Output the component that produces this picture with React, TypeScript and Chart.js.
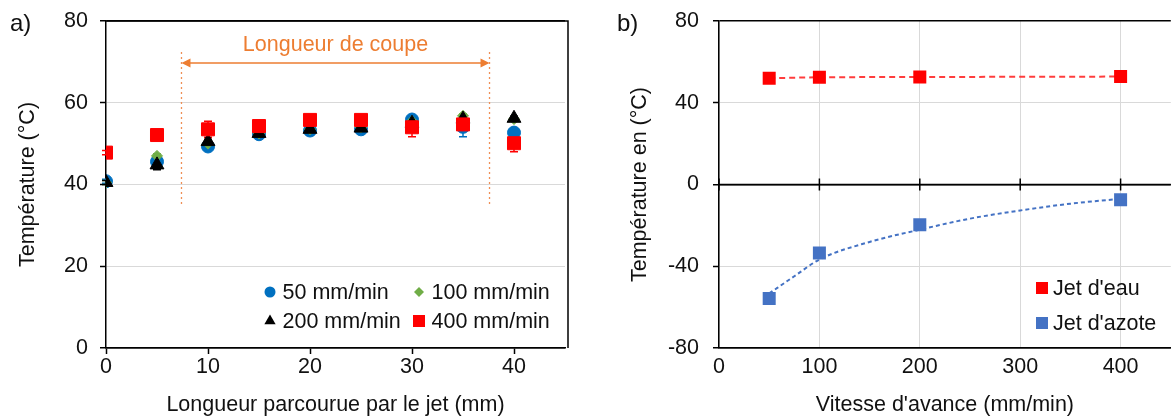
import React, { useEffect, useRef } from "react";
import { Chart, registerables } from "chart.js";

Chart.register(...registerables);

const FONT_FAMILY = "'Liberation Sans', Arial, Helvetica, sans-serif";
const FONT_SIZE = 21.5;
const TEXT_COLOR = "#111111";
const GRID_COLOR = "#D9D9D9";

// ---------- Panel a) ----------
const panelALabel = "a)";
const lengths = [0, 5, 10, 15, 20, 25, 30, 35, 40];
const seriesLabelsA = ["50 mm/min", "100 mm/min", "200 mm/min", "400 mm/min"];
const temp50 = [40.8, 45.6, 49.3, 52.3, 53.2, 53.5, 55.9, 54.1, 52.7];
const temp100 = [40.5, 47.0, 50.0, 52.5, 53.5, 54.0, 55.5, 56.8, 56.0];
const temp200 = [40.5, 44.8, 50.5, 52.5, 53.5, 53.8, 55.0, 56.0, 56.2];
const temp400 = [47.8, 52.1, 53.5, 54.3, 55.8, 55.8, 54.0, 54.7, 50.1];
const err50 = [0.5, 1.0, 1.0, 0.5, 0.5, 0.5, 1.0, 2.4, 0.5];
const err100 = [0.5, 0.5, 0.5, 0.5, 0.5, 0.5, 0.5, 0.5, 0.5];
const err200 = [0.5, 1.2, 1.0, 0.5, 0.5, 0.5, 0.5, 0.5, 0.5];
const err400 = [0.5, 0.5, 2.0, 0.5, 0.5, 0.5, 2.3, 0.5, 2.1];
const xTitleA = "Longueur parcourue par le jet (mm)";
const yTitleA = "Température (°C)";
const cutLabel = "Longueur de coupe";
const cutZoneX = [7.4, 37.6];
const cutZoneY = [34.5, 72.4];
const cutArrowY = 69.7;
const cutLabelY = 74.1;

// ---------- Panel b) ----------
const panelBLabel = "b)";
const speeds = [50, 100, 200, 400];
const seriesLabelsB = ["Jet d'eau", "Jet d'azote"];
const tempWater = [52.0, 52.5, 52.6, 52.8];
const tempNitrogen = [-55.8, -33.5, -19.7, -7.5];
const trendSpeeds = [50, 75, 100, 150, 200, 250, 300, 350, 400];
const trendNitrogen = [-53.3, -44.9, -36.7, -28.1, -22.1, -16.7, -12.7, -9.4, -7.0];
const xTitleB = "Vitesse d'avance (mm/min)";
const yTitleB = "Température en (°C)";

const font = (size = FONT_SIZE) => `${size}px ${FONT_FAMILY}`;

function drawMarker(ctx: CanvasRenderingContext2D, style: string, x: number, y: number, r: number, color: string) {
  ctx.save();
  ctx.fillStyle = color;
  ctx.beginPath();
  if (style === "circle") {
    ctx.arc(x, y, r, 0, Math.PI * 2);
  } else if (style === "rectRot") {
    ctx.moveTo(x, y - r);
    ctx.lineTo(x + r, y);
    ctx.lineTo(x, y + r);
    ctx.lineTo(x - r, y);
    ctx.closePath();
  } else if (style === "triangle") {
    ctx.moveTo(x, y - r);
    ctx.lineTo(x + r * 0.866, y + r * 0.5);
    ctx.lineTo(x - r * 0.866, y + r * 0.5);
    ctx.closePath();
  } else {
    ctx.rect(x - r, y - r, 2 * r, 2 * r);
  }
  ctx.fill();
  ctx.restore();
}

const errorBarPlugin = {
  id: "errorBars",
  beforeDatasetsDraw(chart: any) {
    const ctx = chart.ctx;
    const xs = chart.scales.x;
    const ys = chart.scales.y;
    chart.data.datasets.forEach((ds: any) => {
      if (!ds.errors) return;
      ctx.save();
      ctx.strokeStyle = ds.borderColor;
      ctx.lineWidth = 1.5;
      ds.data.forEach((p: any, i: number) => {
        const e = ds.errors[i];
        if (!e) return;
        const px = xs.getPixelForValue(p.x);
        const y1 = ys.getPixelForValue(p.y + e);
        const y2 = ys.getPixelForValue(p.y - e);
        ctx.beginPath();
        ctx.moveTo(px, y1);
        ctx.lineTo(px, y2);
        ctx.moveTo(px - 4, y1);
        ctx.lineTo(px + 4, y1);
        ctx.moveTo(px - 4, y2);
        ctx.lineTo(px + 4, y2);
        ctx.stroke();
      });
      ctx.restore();
    });
  },
};

function makeLegendPlugin(items: { ds: number; col: number; row: number }[], colX: number[], rowY: number[], legendR: number[], textGap: number) {
  return {
    id: "insideLegend",
    afterDraw(chart: any) {
      const ctx = chart.ctx;
      const area = chart.chartArea;
      items.forEach((it, k) => {
        const ds = chart.data.datasets[it.ds];
        const x = area.left + colX[it.col];
        const y = area.bottom - rowY[it.row];
        drawMarker(ctx, ds.pointStyle, x, y, legendR[k], ds.backgroundColor);
        ctx.save();
        ctx.font = font();
        ctx.fillStyle = TEXT_COLOR;
        ctx.textAlign = "left";
        ctx.textBaseline = "middle";
        ctx.fillText(ds.label, x + textGap, y + 1);
        ctx.restore();
      });
    },
  };
}

function makePanelLabelPlugin(text: string, x: number, y: number) {
  return {
    id: "panelLabel",
    afterDraw(chart: any) {
      const ctx = chart.ctx;
      ctx.save();
      ctx.font = font(24);
      ctx.fillStyle = TEXT_COLOR;
      ctx.textAlign = "left";
      ctx.textBaseline = "alphabetic";
      ctx.fillText(text, x, y);
      ctx.restore();
    },
  };
}

const frameAPlugin = {
  id: "frameA",
  afterDatasetsDraw(chart: any) {
    const { ctx, chartArea } = chart;
    ctx.save();
    ctx.strokeStyle = "#000";
    ctx.lineWidth = 1.5;
    ctx.beginPath();
    ctx.moveTo(chartArea.left, chartArea.top);
    ctx.lineTo(chartArea.right + 3, chartArea.top);
    ctx.lineTo(chartArea.right + 3, chartArea.bottom);
    ctx.stroke();
    ctx.restore();
  },
};

const cutZonePlugin = {
  id: "cutZone",
  beforeDatasetsDraw(chart: any) {
    const ctx = chart.ctx;
    const xs = chart.scales.x;
    const ys = chart.scales.y;
    const x1 = xs.getPixelForValue(cutZoneX[0]);
    const x2 = xs.getPixelForValue(cutZoneX[1]);
    const yTop = ys.getPixelForValue(cutZoneY[1]);
    const yBot = ys.getPixelForValue(cutZoneY[0]);
    const yA = ys.getPixelForValue(cutArrowY);
    ctx.save();
    ctx.strokeStyle = "#EF8F55";
    ctx.lineWidth = 1.3;
    ctx.setLineDash([2, 3]);
    ctx.beginPath();
    ctx.moveTo(x1, yTop);
    ctx.lineTo(x1, yBot);
    ctx.moveTo(x2, yTop);
    ctx.lineTo(x2, yBot);
    ctx.stroke();
    ctx.setLineDash([]);
    ctx.strokeStyle = "#ED7D31";
    ctx.fillStyle = "#ED7D31";
    ctx.lineWidth = 1.5;
    ctx.beginPath();
    ctx.moveTo(x1 + 6, yA);
    ctx.lineTo(x2 - 6, yA);
    ctx.stroke();
    ctx.beginPath();
    ctx.moveTo(x1, yA);
    ctx.lineTo(x1 + 9, yA - 4.5);
    ctx.lineTo(x1 + 9, yA + 4.5);
    ctx.closePath();
    ctx.moveTo(x2, yA);
    ctx.lineTo(x2 - 9, yA - 4.5);
    ctx.lineTo(x2 - 9, yA + 4.5);
    ctx.closePath();
    ctx.fill();
    ctx.font = font();
    ctx.textAlign = "center";
    ctx.textBaseline = "middle";
    ctx.fillText(cutLabel, (x1 + x2) / 2, ys.getPixelForValue(cutLabelY));
    ctx.restore();
  },
};

const crossTicksBPlugin = {
  id: "crossTicks",
  afterDatasetsDraw(chart: any) {
    const ctx = chart.ctx;
    const xs = chart.scales.x;
    const y0 = chart.scales.y.getPixelForValue(0);
    ctx.save();
    ctx.strokeStyle = "#000";
    ctx.lineWidth = 1.5;
    ctx.beginPath();
    ctx.moveTo(chart.chartArea.left, y0);
    ctx.lineTo(chart.chartArea.right, y0);
    xs.ticks.forEach((t: any) => {
      const px = xs.getPixelForValue(t.value);
      ctx.moveTo(px, y0 - 6);
      ctx.lineTo(px, y0 + 6);
    });
    ctx.stroke();
    ctx.restore();
  },
};

function titleOpts(text: string, padding: any) {
  return {
    display: true,
    text,
    color: TEXT_COLOR,
    font: { family: FONT_FAMILY, size: FONT_SIZE },
    padding,
  };
}

function tickFont() {
  return { family: FONT_FAMILY, size: FONT_SIZE };
}

const fitY = (width: number) => (s: any) => {
  s.width = width;
  s.paddingTop = 0;
  s.paddingBottom = 0;
};
const fitX = (height: number) => (s: any) => {
  s.height = height;
  s.paddingLeft = 0;
  s.paddingRight = 0;
};

export default function App() {
  const refA = useRef<HTMLCanvasElement>(null);
  const refB = useRef<HTMLCanvasElement>(null);

  useEffect(() => {
    const toPts = (xs: number[], ys: number[]) => xs.map((x, i) => ({ x, y: ys[i] }));

    const chartA = new Chart(refA.current as HTMLCanvasElement, {
      type: "scatter",
      data: {
        datasets: [
          { label: seriesLabelsA[0], data: toPts(lengths, temp50), errors: err50, pointStyle: "circle", pointRadius: 6.5, backgroundColor: "#0070C0", borderColor: "#0070C0", order: 3 } as any,
          { label: seriesLabelsA[1], data: toPts(lengths, temp100), errors: err100, pointStyle: "rectRot", pointRadius: 5.5, backgroundColor: "#70AD47", borderColor: "#70AD47", order: 2 } as any,
          { label: seriesLabelsA[2], data: toPts(lengths, temp200), errors: err200, pointStyle: "triangle", pointRadius: 8, backgroundColor: "#000000", borderColor: "#000000", order: 1 } as any,
          { label: seriesLabelsA[3], data: toPts(lengths, temp400), errors: err400, pointStyle: "rect", pointRadius: 9.2, backgroundColor: "#FF0000", borderColor: "#FF0000", order: 0 } as any,
        ],
      },
      options: {
        responsive: false,
        animation: false,
        layout: { padding: { left: 0, top: 21, right: 25, bottom: 0 } },
        plugins: { legend: { display: false }, tooltip: { enabled: false } },
        scales: {
          x: {
            type: "linear",
            min: 0,
            max: 45,
            afterFit: fitX(70),
            ticks: { stepSize: 10, includeBounds: false, color: TEXT_COLOR, font: tickFont(), padding: 0 },
            grid: { drawOnChartArea: false, drawTicks: true, tickLength: 6, tickColor: "#000", tickWidth: 1.5 },
            border: { display: true, color: "#000", width: 1.5 },
            title: titleOpts(xTitleA, { top: 0, bottom: 0 }),
          },
          y: {
            type: "linear",
            min: 0,
            max: 80,
            afterFit: fitY(106),
            ticks: { stepSize: 20, color: TEXT_COLOR, font: tickFont(), padding: 12 },
            grid: {
              color: (c: any) => (c.tick && (c.tick.value === 80 || c.tick.value === 0) ? "#000" : GRID_COLOR),
              lineWidth: (c: any) => (c.tick && (c.tick.value === 80 || c.tick.value === 0) ? 1.5 : 1),
              drawTicks: true,
              tickLength: 6,
              tickColor: "#000",
              tickWidth: 1.5,
            },
            border: { display: true, color: "#000", width: 1.5 },
            title: titleOpts(yTitleA, { top: 15, bottom: 0 }),
          },
        },
      } as any,
      plugins: [
        errorBarPlugin,
        cutZonePlugin,
        frameAPlugin,
        makeLegendPlugin(
          [
            { ds: 0, col: 0, row: 0 },
            { ds: 1, col: 1, row: 0 },
            { ds: 2, col: 0, row: 1 },
            { ds: 3, col: 1, row: 1 },
          ],
          [164, 313],
          [56, 27],
          [5.5, 5, 6.5, 6],
          12.5
        ),
        makePanelLabelPlugin(panelALabel, 10, 31),
      ] as any,
    });

    const chartB = new Chart(refB.current as HTMLCanvasElement, {
      type: "scatter",
      data: {
        datasets: [
          { label: seriesLabelsB[0], data: toPts(speeds, tempWater), showLine: true, borderDash: [6, 4], borderWidth: 2, borderColor: "rgba(255,40,40,0.9)", pointStyle: "rect", pointRadius: 9.2, pointBorderWidth: 0, backgroundColor: "#FF0000", pointBackgroundColor: "#FF0000", order: 0 } as any,
          { label: seriesLabelsB[1], data: toPts(speeds, tempNitrogen), showLine: false, pointStyle: "rect", pointRadius: 9.2, pointBorderWidth: 0, backgroundColor: "#4472C4", borderColor: "#4472C4", order: 1 } as any,
          { label: "trend", data: toPts(trendSpeeds, trendNitrogen), showLine: true, cubicInterpolationMode: "monotone", borderDash: [4, 3], borderWidth: 2, borderColor: "#4472C4", pointRadius: 0, order: 2 } as any,
        ],
      },
      options: {
        responsive: false,
        animation: false,
        layout: { padding: { left: 0, top: 21, right: 5, bottom: 0 } },
        plugins: { legend: { display: false }, tooltip: { enabled: false } },
        scales: {
          x: {
            type: "linear",
            min: 0,
            max: 450,
            afterFit: fitX(70),
            ticks: { stepSize: 100, includeBounds: false, color: TEXT_COLOR, font: tickFont(), padding: 6 },
            grid: { color: GRID_COLOR, lineWidth: 1, drawTicks: false },
            border: { display: true, color: "#000", width: 1.5 },
            title: titleOpts(xTitleB, { top: 0, bottom: 0 }),
          },
          y: {
            type: "linear",
            min: -80,
            max: 80,
            afterFit: fitY(129),
            ticks: { stepSize: 40, color: TEXT_COLOR, font: tickFont(), padding: 14 },
            grid: {
              color: (c: any) => (c.tick && (c.tick.value === 80 || c.tick.value === 0 || c.tick.value === -80) ? "#000" : GRID_COLOR),
              lineWidth: (c: any) => (c.tick && (c.tick.value === 80 || c.tick.value === 0 || c.tick.value === -80) ? 1.5 : 1),
              drawTicks: true,
              tickLength: 6,
              tickColor: "#000",
              tickWidth: 1.5,
            },
            border: { display: true, color: "#000", width: 1.5 },
            title: titleOpts(yTitleB, { top: 37, bottom: 0 }),
          },
        },
      } as any,
      plugins: [
        crossTicksBPlugin,
        makeLegendPlugin(
          [
            { ds: 0, col: 0, row: 0 },
            { ds: 1, col: 0, row: 1 },
          ],
          [323],
          [60, 25],
          [6, 6],
          11
        ),
        makePanelLabelPlugin(panelBLabel, 27, 31),
      ] as any,
    });

    return () => {
      chartA.destroy();
      chartB.destroy();
    };
  }, []);

  return (
    <div style={{ position: "absolute", left: 0, top: 0, width: 1171, height: 418, overflow: "hidden", background: "#fff" }}>
      <canvas ref={refA} width={590} height={418} style={{ position: "absolute", left: 0, top: 0, width: 590, height: 418 }} />
      <canvas ref={refB} width={590} height={418} style={{ position: "absolute", left: 590, top: 0, width: 590, height: 418 }} />
    </div>
  );
}
